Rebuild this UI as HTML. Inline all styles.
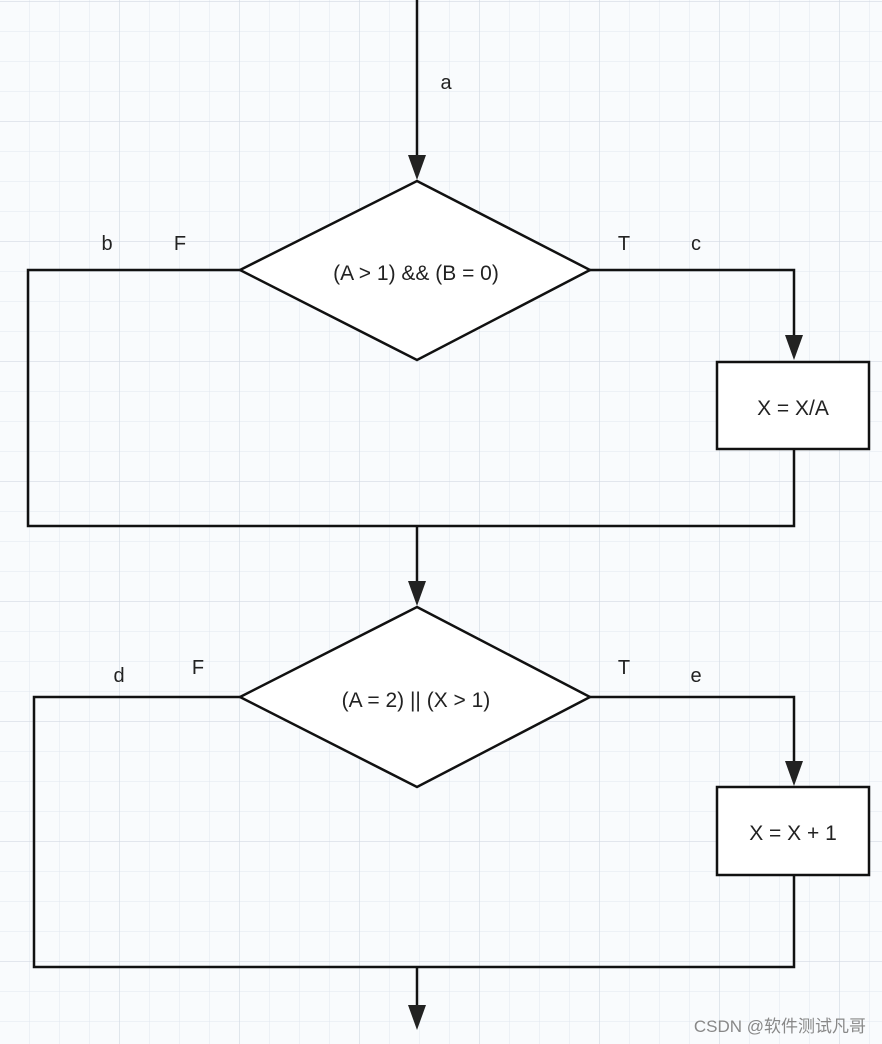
<!DOCTYPE html><html><head><style>body{margin:0;background:#fff}svg{display:block}text{font-family:"Liberation Sans","Noto Sans CJK SC",sans-serif;fill:#222}</style></head><body>
<svg width="882" height="1044" xmlns="http://www.w3.org/2000/svg">
<defs>
<pattern id="g" x="0" y="2" width="30" height="30" patternUnits="userSpaceOnUse"><path d="M30 0V30M0 30H30" stroke="#e1e7ee" stroke-width="1" fill="none"/></pattern>
<pattern id="G" x="0" y="2" width="120" height="120" patternUnits="userSpaceOnUse"><path d="M120 0V120M0 120H120" stroke="#d3dae3" stroke-width="1.3" fill="none"/></pattern>
</defs>
<rect width="882" height="1044" fill="#f9fbfd"/>
<rect width="882" height="1044" fill="url(#g)"/>
<rect width="882" height="1044" fill="url(#G)"/>
<g stroke="#111" stroke-width="2.5" fill="none">
<path d="M417 0V158"/>
<path d="M240 270H28V526H794V449"/>
<path d="M590 270H794V338"/>
<path d="M417 526V584"/>
<path d="M240 697H34V967H794V875"/>
<path d="M590 697H794V764"/>
<path d="M417 967V1008"/>
<path d="M417 181L590 270L417 360L240 270Z" fill="#fff"/>
<path d="M417 607L590 697L417 787L240 697Z" fill="#fff"/>
<rect x="717" y="362" width="152" height="87" fill="#fff"/>
<rect x="717" y="787" width="152" height="88" fill="#fff"/>
</g>
<g fill="#222">
<path d="M408 155L426 155L417 180Z"/>
<path d="M785 335L803 335L794 360Z"/>
<path d="M408 581L426 581L417 606Z"/>
<path d="M785 761L803 761L794 786Z"/>
<path d="M408 1005L426 1005L417 1030Z"/>
</g>
<g font-size="20">
<text x="446" y="89" text-anchor="middle">a</text>
<text x="107" y="250" text-anchor="middle">b</text>
<text x="180" y="250" text-anchor="middle">F</text>
<text x="624" y="250" text-anchor="middle">T</text>
<text x="696" y="250" text-anchor="middle">c</text>
<text x="416" y="280" text-anchor="middle" font-size="21">(A &gt; 1)  &amp;&amp;  (B = 0)</text>
<text x="793" y="415" text-anchor="middle" font-size="21">X = X/A</text>
<text x="119" y="682" text-anchor="middle">d</text>
<text x="198" y="674" text-anchor="middle">F</text>
<text x="624" y="674" text-anchor="middle">T</text>
<text x="696" y="682" text-anchor="middle">e</text>
<text x="416" y="707" text-anchor="middle" font-size="21">(A = 2) || (X &gt; 1)</text>
<text x="793" y="840" text-anchor="middle" font-size="21">X = X + 1</text>
</g>
<text x="866" y="1032" font-size="17" text-anchor="end" style="fill:#888">CSDN @软件测试凡哥</text>
</svg>
</body></html>
